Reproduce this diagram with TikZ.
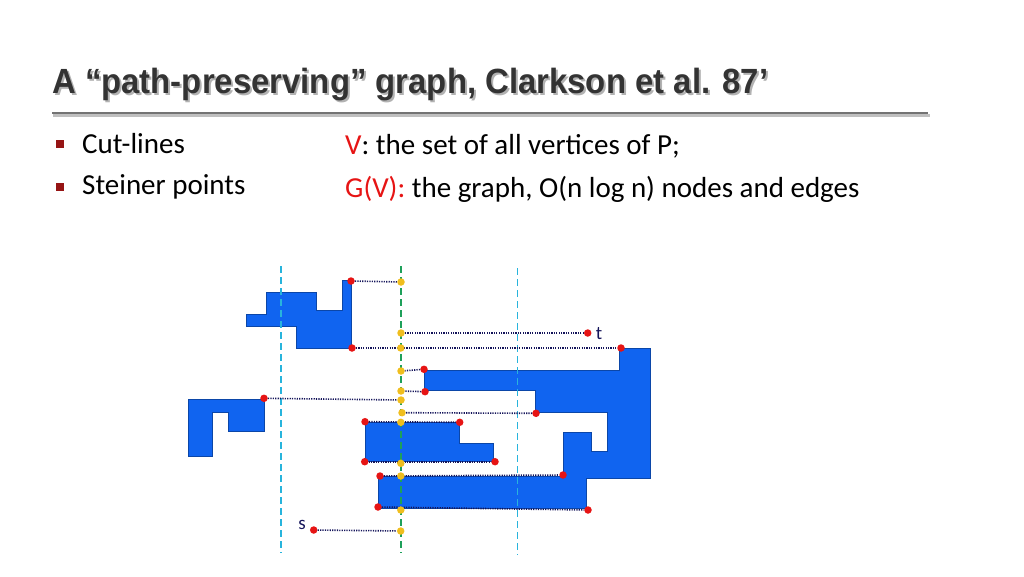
\documentclass[tikz,border=0pt]{standalone}
\usepackage{fontspec}
\setmainfont{Carlito}
\newfontfamily\titlefont{Liberation Sans}
\definecolor{polyblue}{RGB}{16,100,240}
\definecolor{cutblue}{RGB}{40,180,220}
\definecolor{cutgreen}{RGB}{30,160,90}
\definecolor{dotnavy}{RGB}{20,20,90}
\definecolor{ptred}{RGB}{230,20,20}
\definecolor{ptyellow}{RGB}{240,190,30}
\definecolor{bulletred}{RGB}{150,20,20}
\begin{document}
\begin{tikzpicture}[x=1pt,y=-1pt,
    poly/.style={fill=polyblue, draw=polyblue!70!black, line width=0.6pt},
    cutline/.style={draw=cutblue, dash pattern=on 7pt off 4pt, line width=1.4pt},
    link/.style={draw=dotnavy, dash pattern=on 1.2pt off 1.2pt, line width=1.6pt},
    redpt/.style={circle, fill=ptred, inner sep=0pt, minimum size=7.5pt},
    yelpt/.style={circle, fill=ptyellow, inner sep=0pt, minimum size=7.5pt},
    txt/.style={anchor=west, inner sep=0pt, font=\fontsize{29}{33}\selectfont}]
  \useasboundingbox (0,0) rectangle (1024,576);
  % title
  \node[anchor=west, inner sep=0pt, text=black!30, font=\titlefont\bfseries\fontsize{35}{40}\selectfont, xscale=0.94]
    at (54,87) {A “path-preserving” graph, Clarkson et al. 87’};
  \node[anchor=west, inner sep=0pt, text=black!80, font=\titlefont\bfseries\fontsize{35}{40}\selectfont, xscale=0.94]
    (title) at (52,85) {A “path-preserving” graph, Clarkson et al. 87’};
  \draw[black!25, line width=3pt] (53,115) -- (930,115);
  \draw[black!55, line width=2.5pt] (52,113) -- (928,113);
  % bullets
  \foreach \yy/\tx in {144/Cut-lines, 187/Steiner points}{
    \fill[bulletred] (56,\yy-4) rectangle (64,\yy+4);
    \node[txt] at (82,\yy) {\tx};
  }
  \node[txt] (v) at (345,146) {\textcolor{ptred}{V}: the set of all vertices of P;};
  \node[txt] (gv) at (345,189) {\textcolor{ptred}{G(V):} the graph, O(n log n) nodes and edges};
  % polygons
  \draw[poly] (246.7,314) -- (266.7,314) -- (266.7,292.3) -- (316.7,292.3) -- (316.7,310.7)
    -- (342.3,310.7) -- (342.3,280) -- (351.7,280) -- (351.7,348.3) -- (296.3,348.3)
    -- (296.3,326.7) -- (246.7,326.7) -- cycle;
  \draw[poly] (188.3,399.3) -- (264,399.3) -- (264,431) -- (228.3,431) -- (228.3,412.3)
    -- (212.7,412.3) -- (212.7,456.7) -- (188.3,456.7) -- cycle;
  \draw[poly] (424.3,370) -- (619.3,370) -- (619.3,348.3) -- (650,348.3) -- (650,478.3)
    -- (586.7,478.3) -- (586.7,508.3) -- (378.3,508.3) -- (378.3,476.7) -- (563.3,476.7)
    -- (563.3,432.3) -- (591.7,432.3) -- (591.7,451) -- (607.7,451) -- (607.7,412.7)
    -- (535,412.7) -- (535,390.7) -- (424.3,390.7) -- cycle;
  \draw[poly] (365,422.3) -- (459.3,422.3) -- (459.3,443.3) -- (493.3,443.3)
    -- (493.3,461.7) -- (365,461.7) -- cycle;
  % cut-lines
  \draw[cutline] (281,266) -- (281,553);
  \draw[cutline, draw=cutgreen] (401,266) -- (401,553);
  \draw[cutline] (517.7,268) -- (517.7,555);
  % points and links
  \foreach \n/\xa/\ya/\xb/\yb in {a/351/281/401/282, b/587.7/333/401/333, d/424/369.3/401/371,
      e/425/391.7/401/391, f/264/398.3/401/400, g/536/413.3/402/412.7,
      m/313.7/530/400.7/531}{
    \node[redpt] (r\n) at (\xa,\ya) {};
    \node[yelpt] (y\n) at (\xb,\yb) {};
    \draw[link] (r\n) -- (y\n);
  }
  \foreach \n/\xa/\ya/\xb/\yb/\yc in {c/352/348/621/348/348, h/365/421.7/459.7/422.3/422.3,
      i/364.7/461.7/495/461.7/463.3, j/380/476/563/475/476, k/378/507/588/510/510}{
    \node[redpt] (p\n) at (\xa,\ya) {};
    \node[redpt] (q\n) at (\xb,\yb) {};
    \draw[link] (p\n) -- (q\n);
    \node[yelpt] (y\n) at (400.8,\yc) {};
  }
  \node[text=dotnavy, font=\fontsize{19}{21}\selectfont] (t) at (599,334) {t};
  \node[text=dotnavy, font=\fontsize{19}{21}\selectfont] (s) at (302,525) {s};
\end{tikzpicture}
\end{document}
